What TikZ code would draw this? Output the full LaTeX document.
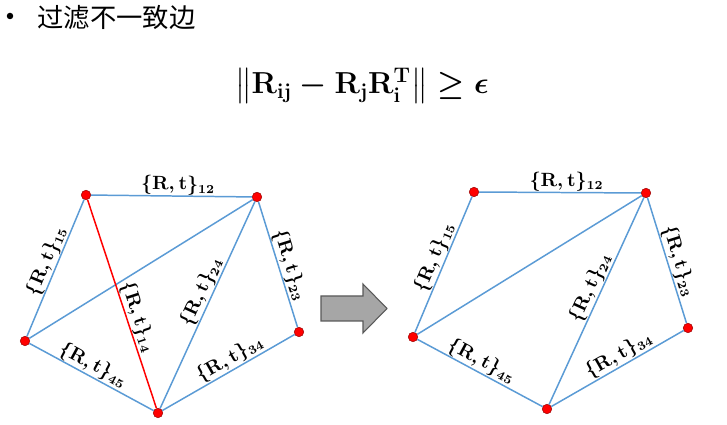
\documentclass[tikz,border=0pt]{standalone}
\usepackage{amsmath,amssymb}
\usepackage{fontspec}
\newfontfamily\cjkfont{Noto Sans CJK SC}
\usetikzlibrary{backgrounds,positioning}
\definecolor{edgeblue}{HTML}{5B9BD5}
\definecolor{dotred}{HTML}{FF0000}
\definecolor{arrowgray}{HTML}{A6A6A6}
\newcommand{\rtlabel}[1]{{\boldmath$\{\mathbf{R},\mathbf{t}\}_{\mathbf{#1}}$}}
\newcommand{\consistrule}{{\boldmath$\left\Vert\mathbf{R}_{\mathbf{ij}}-\mathbf{R}_{\mathbf{j}}\mathbf{R}_{\mathbf{i}}^{\mathbf{T}}\right\Vert\geq\epsilon$}}

\begin{document}
\begin{tikzpicture}[
  x=0.02cm,y=-0.02cm,
  vertex/.style={circle,fill=dotred,draw=dotred!60!black,line width=0.3pt,
                 inner sep=0pt,minimum size=0.19cm},
  edge/.style={draw=edgeblue,line width=0.85pt},
  badedge/.style={draw=dotred,line width=0.85pt},
  edgelabel/.style={sloped,above,inner sep=0.3pt,font=\fontsize{10.6}{12}\selectfont}
]
  \useasboundingbox (0,0) rectangle (727,425);

  \node[circle,fill=black,inner sep=0pt,minimum size=0.13cm] (bullet) at (10,16) {};
  \node[anchor=west,inner sep=0pt,font=\cjkfont\fontsize{15}{18}\selectfont] (title) at (37,18) {过滤不一致边};
  \node[font=\fontsize{17}{20}\selectfont] (formula) at (362,86) {\consistrule};

  % before filtering
  \node[vertex] (a1) at (86,195) {};
  \node[vertex] (a2) at (257,197) {};
  \node[vertex] (a3) at (299,332) {};
  \node[vertex] (a4) at (158,413) {};
  \node[vertex] (a5) at (25,341) {};
  \begin{scope}[on background layer]
  \draw[edge] (a1) -- node[edgelabel,pos=0.54] {\rtlabel{12}} (a2);
  \draw[edge] (a5) -- node[edgelabel,pos=0.52] {\rtlabel{15}} (a1);
  \draw[edge] (a5) -- (a2);
  \draw[edge] (a4) -- node[edgelabel,pos=0.54] {\rtlabel{24}} (a2);
  \draw[edge] (a2) -- node[edgelabel,pos=0.53] {\rtlabel{23}} (a3);
  \draw[edge] (a4) -- node[edgelabel,pos=0.55] {\rtlabel{34}} (a3);
  \draw[edge] (a5) -- node[edgelabel,pos=0.47] {\rtlabel{45}} (a4);
  \draw[badedge] (a1) -- node[edgelabel,pos=0.58] {\rtlabel{14}} (a4);
  \end{scope}

  % arrow
  \draw[draw=black!65,fill=arrowgray,line width=0.6pt]
    (321,296) -- (363,296) -- (363,284) -- (387,308.5) -- (363,333) -- (363,321) -- (321,321) -- cycle;

  % after filtering
  \node[vertex] (b1) at (474,192) {};
  \node[vertex] (b2) at (646,193) {};
  \node[vertex] (b3) at (688,328) {};
  \node[vertex] (b4) at (547,409) {};
  \node[vertex] (b5) at (413,337) {};
  \begin{scope}[on background layer]
  \draw[edge] (b1) -- node[edgelabel,pos=0.54] {\rtlabel{12}} (b2);
  \draw[edge] (b5) -- node[edgelabel,pos=0.52] {\rtlabel{15}} (b1);
  \draw[edge] (b5) -- (b2);
  \draw[edge] (b4) -- node[edgelabel,pos=0.54] {\rtlabel{24}} (b2);
  \draw[edge] (b2) -- node[edgelabel,pos=0.53] {\rtlabel{23}} (b3);
  \draw[edge] (b4) -- node[edgelabel,pos=0.55] {\rtlabel{34}} (b3);
  \draw[edge] (b5) -- node[edgelabel,pos=0.47] {\rtlabel{45}} (b4);
  \end{scope}
\end{tikzpicture}
\end{document}
